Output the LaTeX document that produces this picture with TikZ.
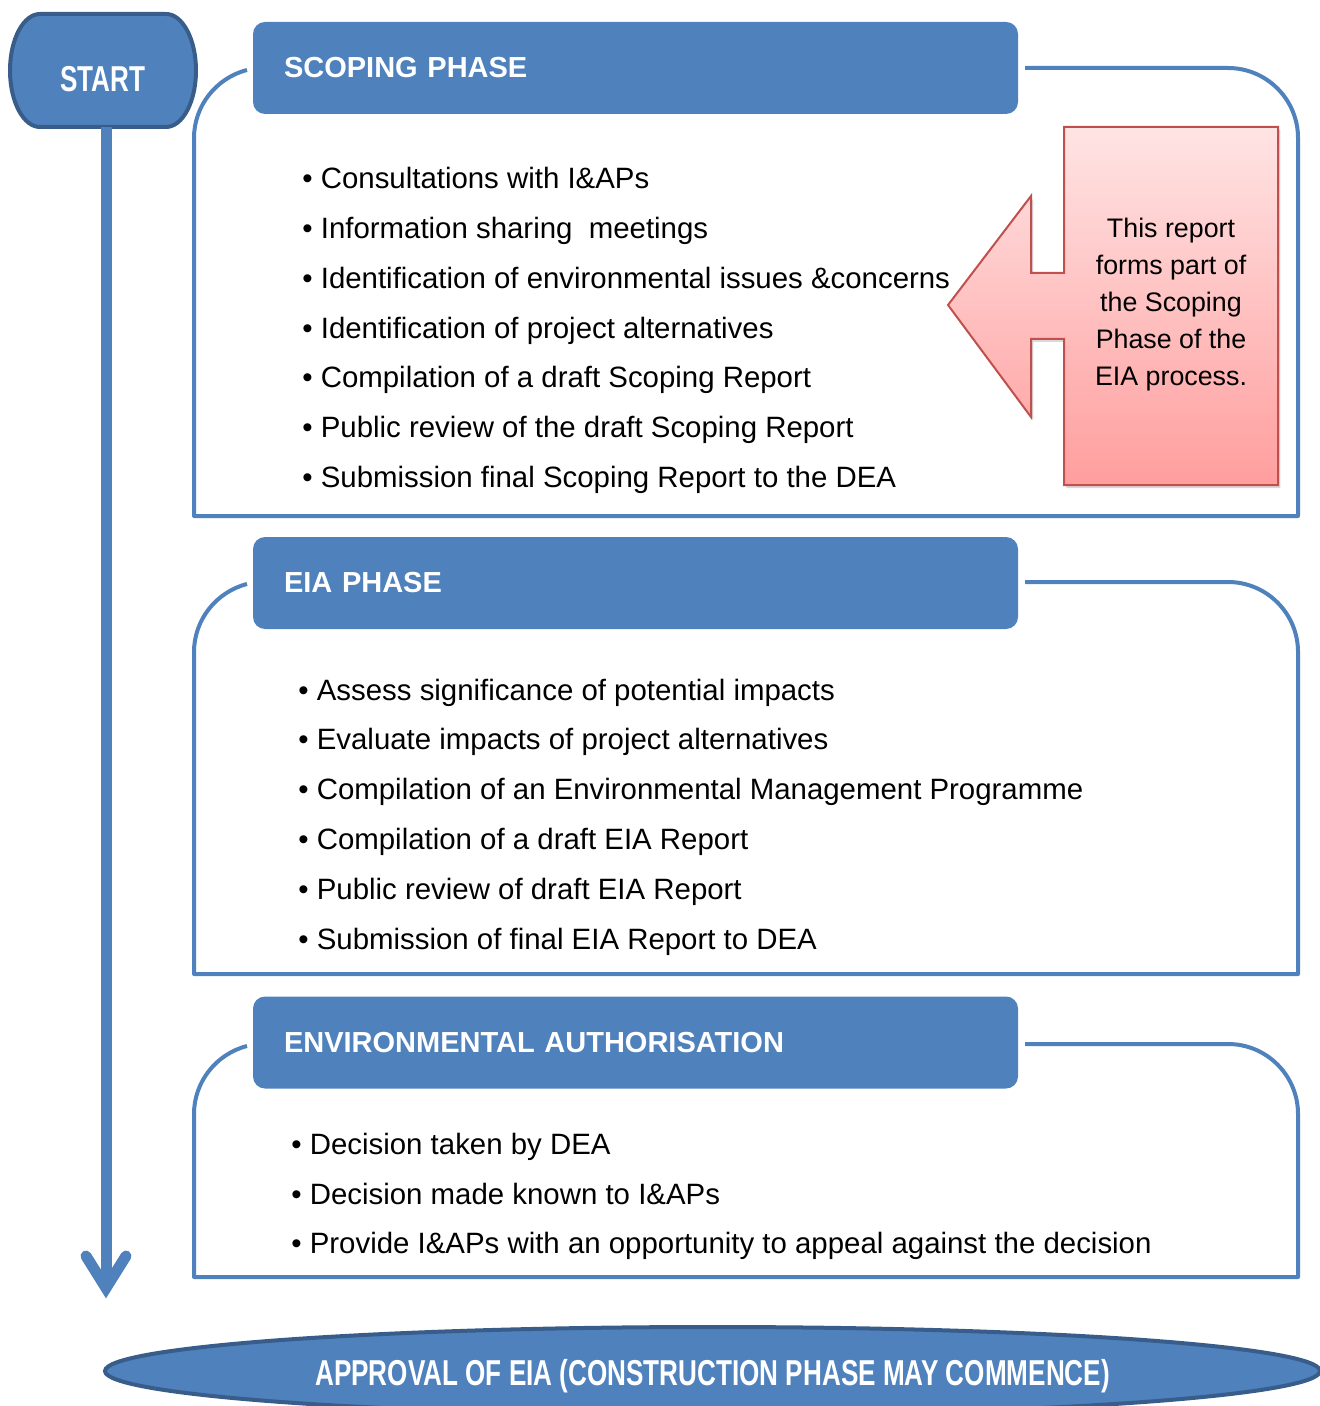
\documentclass[tikz,border=0pt]{standalone}
\usepackage{fontspec}
\setmainfont{Liberation Sans}
\newfontfamily\narrowsans[FakeStretch=0.725]{Liberation Sans}
\usetikzlibrary{shapes.geometric,shadows,calc,backgrounds}
\definecolor{phaseblue}{HTML}{4F81BD}
\definecolor{darkblue}{HTML}{385D8A}
\definecolor{notered}{HTML}{C0504D}
\definecolor{notetop}{HTML}{FFE4E4}
\definecolor{notebot}{HTML}{FF9E9E}
\tikzset{
  phaseframe/.style={draw=phaseblue,line width=2pt,line join=round},
  flowline/.style={draw=phaseblue,line width=5.5pt},
}

\begin{document}
\begin{tikzpicture}[x=0.5pt,y=-0.5pt,
  hdr/.style={fill=phaseblue,rounded corners=6pt,minimum height=46pt,
    text width=351.5pt,inner xsep=15.5pt,inner ysep=0pt,align=left,
    text=white,font=\fontsize{14.5}{17}\selectfont\bfseries},
  items/.style={anchor=west,inner sep=0pt,align=left,
    font=\fontsize{14.7}{24.9}\selectfont},
  term/.style={fill=phaseblue,draw=darkblue,line width=2pt,inner sep=0pt,
    text=white,font=\narrowsans\fontsize{18}{20}\selectfont\bfseries},
]
  \useasboundingbox (0,0) rectangle (1320,1406);
  \clip (0,0) rectangle (1320,1406);

  % frames of the three phases
  \foreach \t/\b in {68/516,582/974,1044/1277}
    \draw[phaseframe] (1025,\t) -- (1228,\t)
      .. controls (1266.6,\t) and (1298,{\t+31.4}) .. (1298,{\t+70})
      -- (1298,\b) -- (194,\b) -- (194,{\t+70})
      .. controls (194,{\t+38}) and (216,{\t+10}) .. (247,{\t+2});

  % start
  \node[minimum width=93pt,minimum height=56.5pt,inner sep=0pt,text=white,
    text height=20.9pt,text depth=0pt,
    font=\narrowsans\fontsize{18}{20}\selectfont\bfseries] (start) at (103,70.5) {START};
  \begin{scope}[on background layer]
    \path[term] (40,14) -- (166,14)
      .. controls (182.6,14) and (196,39.3) .. (196,70.5)
      .. controls (196,101.7) and (182.6,127) .. (166,127)
      -- (40,127)
      .. controls (23.4,127) and (10,101.7) .. (10,70.5)
      .. controls (10,39.3) and (23.4,14) .. cycle;
  \end{scope}

  % 1 Scoping
  \node[hdr] (scoping) at (635.5,68) {SCOPING PHASE};
  \node[items] (scopelist) at (302,330.5) {%
    \textbullet\ Consultations with I\&APs\\
    \textbullet\ Information sharing\ \ meetings\\
    \textbullet\ Identification of environmental issues \&concerns\\
    \textbullet\ Identification of project alternatives\\
    \textbullet\ Compilation of a draft Scoping Report\\
    \textbullet\ Public review of the draft Scoping Report\\
    \textbullet\ Submission final Scoping Report to the DEA};

  % note on this report
  \path[draw=notered,line width=1pt,top color=notetop,bottom color=notebot,
    drop shadow={opacity=0.3,shadow xshift=1.2pt,shadow yshift=-1.5pt}]
    (1064,127) -- (1278,127) -- (1278,485) -- (1064,485) -- (1064,339)
    -- (1031,339) -- (1031,417) -- (948,305) -- (1031,196) -- (1031,273)
    -- (1064,273) -- cycle;
  \node[align=center,font=\fontsize{13.4}{18.5}\selectfont] (note)
    at (1171,304.5) {This report\\forms part of\\the Scoping\\Phase of the\\EIA process.};

  % 2 EIA
  \node[hdr] (eia) at (635.5,583) {EIA PHASE};
  \node[items] (eialist) at (298,817) {%
    \textbullet\ Assess significance of potential impacts\\
    \textbullet\ Evaluate impacts of project alternatives\\
    \textbullet\ Compilation of an Environmental Management Programme\\
    \textbullet\ Compilation of a draft EIA Report\\
    \textbullet\ Public review of draft EIA Report\\
    \textbullet\ Submission of final EIA Report to DEA};

  % 3 Authorisation
  \node[hdr] (auth) at (635.5,1042.5) {ENVIRONMENTAL AUTHORISATION};
  \node[items] (authlist) at (291,1196.5) {%
    \textbullet\ Decision taken by DEA\\
    \textbullet\ Decision made known to I\&APs\\
    \textbullet\ Provide I\&APs with an opportunity to appeal against the decision};

  % end
  \node[term,ellipse,minimum width=607.5pt,minimum height=44pt,
    text height=14.5pt,text depth=0pt] (approval)
    at (712.5,1371) {APPROVAL OF EIA (CONSTRUCTION PHASE MAY COMMENCE)};

  \coordinate (tip) at (106,1288);
  \draw[flowline] (start.south -| tip) -- (tip);
  \draw[flowline,line cap=round,line join=miter]
    ($(tip)+(-20,-32)$) -- (tip) -- ($(tip)+(20,-32)$);
\end{tikzpicture}
\end{document}
